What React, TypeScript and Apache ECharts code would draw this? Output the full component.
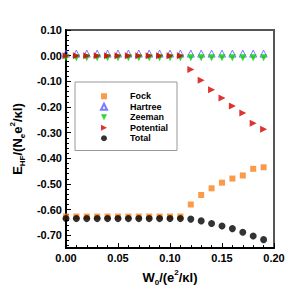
import React, { useEffect, useRef } from "react";
import * as echarts from "echarts";

const xValues = [0.0, 0.01, 0.02, 0.03, 0.04, 0.05, 0.06, 0.07, 0.08, 0.09, 0.1, 0.11, 0.12, 0.13, 0.14, 0.15, 0.16, 0.17, 0.18, 0.19];
const fock = [-0.627, -0.627, -0.627, -0.627, -0.627, -0.627, -0.627, -0.627, -0.627, -0.627, -0.627, -0.627, -0.58, -0.543, -0.517, -0.495, -0.479, -0.467, -0.441, -0.435];
const hartree = [0.008, 0.008, 0.008, 0.008, 0.008, 0.008, 0.008, 0.008, 0.008, 0.008, 0.008, 0.008, 0.008, 0.008, 0.008, 0.008, 0.008, 0.008, 0.008, 0.008];
const zeeman = [-0.008, -0.008, -0.008, -0.008, -0.008, -0.008, -0.008, -0.008, -0.008, -0.008, -0.008, -0.008, -0.008, -0.008, -0.008, -0.008, -0.008, -0.008, -0.008, -0.008];
const potential = [0.0, 0.0, 0.0, 0.0, 0.0, 0.0, 0.0, 0.0, 0.0, 0.0, 0.0, 0.0, -0.054, -0.096, -0.133, -0.165, -0.196, -0.223, -0.263, -0.287];
const total = [-0.635, -0.635, -0.635, -0.635, -0.635, -0.635, -0.635, -0.635, -0.635, -0.635, -0.635, -0.635, -0.637, -0.644, -0.654, -0.664, -0.674, -0.688, -0.703, -0.717];

const yTickValues = [-0.7, -0.6, -0.5, -0.4, -0.3, -0.2, -0.1, 0.0, 0.1];
const yMinorTickValues = [-0.74, -0.72, -0.68, -0.66, -0.64, -0.62, -0.58, -0.56, -0.54, -0.52, -0.48, -0.46, -0.44, -0.42, -0.38, -0.36, -0.34, -0.32, -0.28, -0.26, -0.24, -0.22, -0.18, -0.16, -0.14, -0.12, -0.08, -0.06, -0.04, -0.02, 0.02, 0.04, 0.06, 0.08];

const pair = (ys: number[]) => xValues.map((x, i) => [x, ys[i]]);

const FONT = "Liberation Sans, Arial, sans-serif";
const TRI_RIGHT = "path://M0,0 L10,5 L0,10 Z";
const TRI_DOWN = "path://M0,0 L10,0 L5,10 Z";

export default function App() {
  const ref = useRef<HTMLDivElement>(null);
  useEffect(() => {
    if (!ref.current) return;
    const chart = echarts.init(ref.current, undefined, { renderer: "svg" });
    const nameRich = {
      b: { fontSize: 13, fontWeight: "bold", fontFamily: FONT, color: "#000", lineHeight: 18, verticalAlign: "middle" },
      sub: { fontSize: 8, fontWeight: "bold", fontFamily: FONT, color: "#000", lineHeight: 18, verticalAlign: "bottom", padding: [6, 0, 0, 0] },
      sup: { fontSize: 8, fontWeight: "bold", fontFamily: FONT, color: "#000", lineHeight: 18, verticalAlign: "top", padding: [0, 0, 8, 0] },
    };
    const yLabel = { fontSize: 11, fontWeight: "bold", fontFamily: FONT, color: "#000", margin: 4 };
    chart.setOption({
      animation: false,
      backgroundColor: "#fff",
      grid: { left: 58, right: 17, top: 30, bottom: 40, show: true, borderColor: "#555", borderWidth: 2, backgroundColor: "transparent" },
      xAxis: {
        type: "value",
        min: 0,
        max: 0.2,
        interval: 0.05,
        name: "{b|W}{sub|0}{b|/(e}{sup|2}{b|/κl)}",
        nameLocation: "middle",
        nameGap: 5,
        nameTextStyle: { rich: nameRich },
        axisLine: { onZero: false, lineStyle: { color: "#000", width: 2 } },
        axisTick: { inside: true, length: 5, lineStyle: { color: "#000", width: 1 } },
        minorTick: { show: true, splitNumber: 5, length: 3, lineStyle: { color: "#000", width: 1 } },
        splitLine: { show: false },
        axisLabel: { fontSize: 11, fontWeight: "bold", fontFamily: FONT, color: "#000", margin: 4, formatter: (v: number) => v.toFixed(2) },
      },
      yAxis: [
        {
          type: "value",
          min: -0.75,
          max: 0.1,
          position: "left",
          name: "{b|E}{sub|HF}{b|/(N}{sub|e}{b|e}{sup|2}{b|/κl)}",
          nameLocation: "middle",
          nameGap: 33,
          nameRotate: 90,
          nameTextStyle: { rich: nameRich },
          axisLine: { onZero: false, lineStyle: { color: "#000", width: 2 } },
          axisTick: { inside: true, length: 5, customValues: yTickValues, lineStyle: { color: "#000", width: 1 } },
          splitLine: { show: false },
          axisLabel: { ...yLabel, customValues: yTickValues, formatter: (v: number) => (Math.abs(v) < 1e-9 ? "0.00" : v.toFixed(2)) },
        },
        {
          type: "value",
          min: -0.75,
          max: 0.1,
          position: "left",
          axisLine: { show: false },
          axisTick: { inside: true, length: 3, customValues: yMinorTickValues, lineStyle: { color: "#000", width: 1 } },
          splitLine: { show: false },
          axisLabel: { show: false },
        },
      ],
      legend: {
        orient: "vertical",
        left: 75,
        top: 82,
        width: 98,
        padding: [9, 9, 7, 25],
        borderColor: "#999",
        borderWidth: 1,
        backgroundColor: "#fff",
        itemWidth: 6,
        itemHeight: 6,
        itemGap: 0,
        textStyle: { fontSize: 9, fontWeight: "bold", fontFamily: FONT, color: "#000", lineHeight: 10.5, padding: [0, 0, 0, 18] },
        data: ["Fock", "Hartree", "Zeeman", "Potential", "Total"],
      },
      series: [
        { name: "Fock", type: "scatter", symbol: "rect", symbolSize: 6, data: pair(fock), itemStyle: { color: "#f7821b" } },
        { name: "Hartree", type: "scatter", symbol: "triangle", symbolSize: 7, data: pair(hartree), itemStyle: { color: "rgba(0,0,0,0)", borderColor: "#5a5aff", borderWidth: 1 } },
        { name: "Zeeman", type: "scatter", symbol: TRI_DOWN, symbolSize: 7, data: pair(zeeman), itemStyle: { color: "#00cc00" } },
        { name: "Potential", type: "scatter", symbol: TRI_RIGHT, symbolSize: 7, data: pair(potential), itemStyle: { color: "#d40000" } },
        { name: "Total", type: "scatter", symbol: "circle", symbolSize: 7, data: pair(total), itemStyle: { color: "#000" } },
      ],
    });
    return () => chart.dispose();
  }, []);
  return <div ref={ref} style={{ width: 291, height: 291, position: "absolute", left: 0, top: 0 }} />;
}
